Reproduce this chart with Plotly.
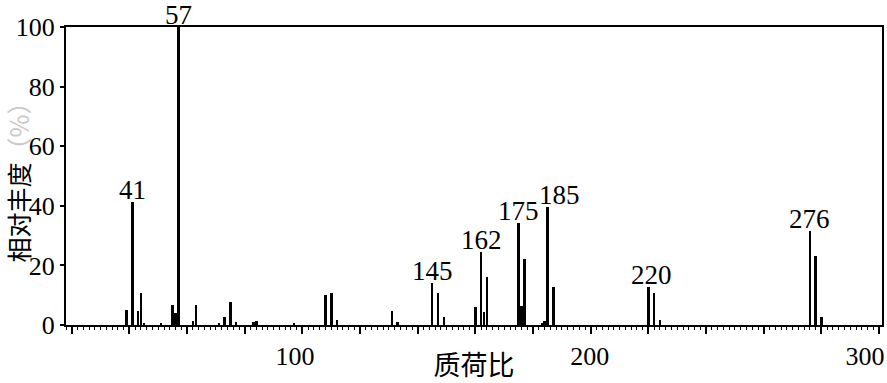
import plotly.graph_objects as go

# m/z values and relative abundance (%)
mz = [39, 41, 43, 44, 45, 51, 55, 56, 57, 62, 63, 71, 73, 75, 77, 83, 84, 97,
      108, 110, 112, 131, 133, 145, 147, 149, 160, 162, 163, 164, 175, 176, 177,
      183, 184, 185, 187, 220, 222, 224, 276, 278, 280]
abundance = [5.2, 41.4, 4.8, 10.8, 0.8, 0.6, 6.6, 4.1, 100, 1.3, 6.6, 0.7, 2.6, 7.6, 1.0, 1.1, 1.5, 0.8,
             10.1, 10.7, 1.7, 4.7, 0.9, 14.0, 10.7, 2.8, 6.2, 24.5, 4.2, 16.0, 34.2, 6.5, 22.1,
             0.8, 1.2, 39.5, 12.7, 12.9, 10.9, 1.7, 31.4, 23.0, 2.8]

labeled_peaks = [41, 57, 145, 162, 175, 185, 220, 276]
label_xshift = {185: 12, 220: 3}

x_major = list(range(20, 301, 20))
x_labels = {100: "\u2002100", 200: "\u2003200", 300: "300"}
y_ticks = [0, 20, 40, 60, 80, 100]

x_title = "质荷比"
y_title = "相对丰度<span style='color:#c8c8c8'>（%）</span>"

SERIF = "Liberation Serif"
CJK = "Noto Sans CJK SC"

fig = go.Figure()
fig.add_trace(go.Bar(x=mz, y=abundance, width=0.85,
                     marker=dict(color="black", line=dict(width=0))))

ab_map = dict(zip(mz, abundance))
for p in labeled_peaks:
    fig.add_annotation(x=p, y=ab_map[p], text=str(p), showarrow=False,
                       yanchor="bottom", xanchor="center", yshift=-5,
                       xshift=label_xshift.get(p, 0),
                       font=dict(family=SERIF, size=27, color="black"))

fig.update_layout(
    width=887, height=383,
    margin=dict(l=66, r=5, t=27, b=58),
    paper_bgcolor="white", plot_bgcolor="white",
    showlegend=False, bargap=0,
    xaxis=dict(range=[18, 301], showgrid=False, zeroline=False, automargin=False,
               showline=True, linecolor="black", linewidth=2, mirror=True,
               tickmode="array", tickvals=x_major,
               ticktext=[x_labels.get(v, "") for v in x_major],
               ticklabeloverflow="allow", ticklabelshift=-14,
               ticks="outside", ticklen=7, tickwidth=1.5, tickcolor="black",
               minor=dict(dtick=2, ticks="outside", ticklen=3, tickwidth=1, tickcolor="black"),
               tickfont=dict(family=SERIF, size=26, color="black"),
               title=dict(text=x_title, font=dict(family=CJK, size=27, color="black"), standoff=0)),
    yaxis=dict(range=[0, 100], showgrid=False, zeroline=False, automargin=False,
               showline=True, linecolor="black", linewidth=2, mirror=True,
               tickmode="array", tickvals=y_ticks,
               ticks="outside", ticklen=4, tickwidth=1.5, tickcolor="black",
               tickfont=dict(family=SERIF, size=26, color="black"),
               title=dict(text=y_title, font=dict(family=CJK, size=25, color="black"), standoff=2)),
)

fig.write_html("out.html")
